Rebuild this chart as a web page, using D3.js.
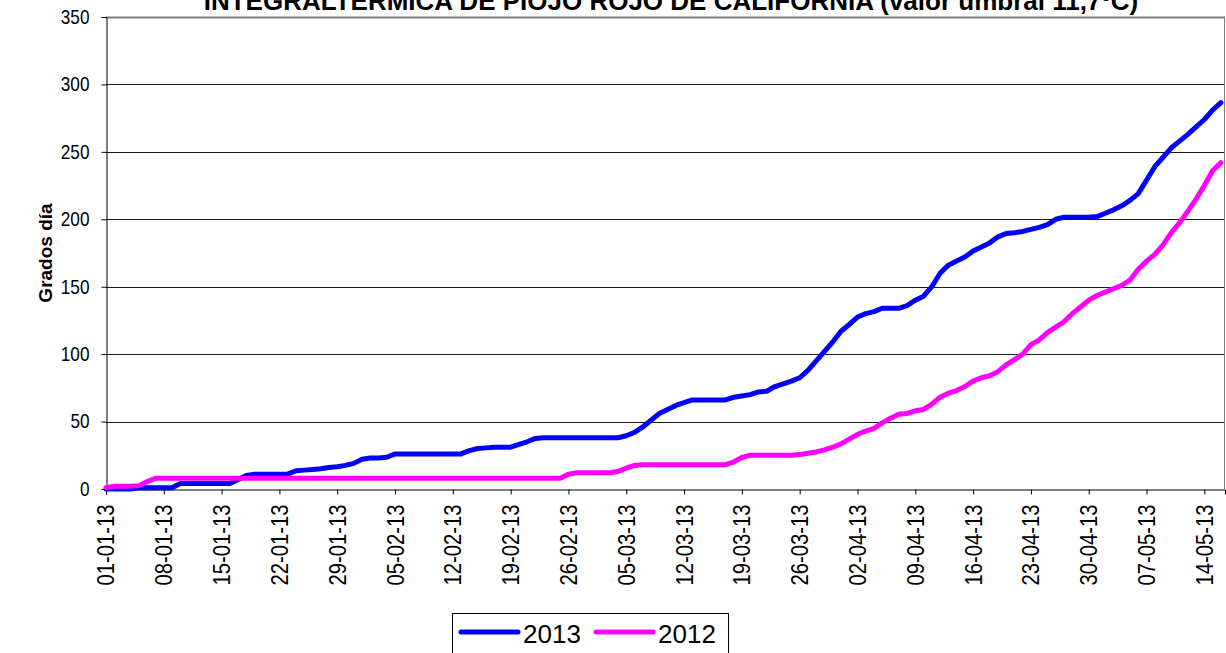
<!DOCTYPE html>
<html>
<head>
<meta charset="utf-8">
<script src="https://cdn.jsdelivr.net/npm/d3@7"></script>
<style>
  body { margin: 0; background: #fff; }
  svg { display: block; font-family: 'Liberation Sans', Arial, sans-serif; }
</style>
</head>
<body>
<div id="chart"></div>
<script>
// first day of the series, one value per day after it
const startDate = new Date(2013, 0, 1);

const tickLabels = [
  '01-01-13', '08-01-13', '15-01-13', '22-01-13', '29-01-13', '05-02-13',
  '12-02-13', '19-02-13', '26-02-13', '05-03-13', '12-03-13', '19-03-13',
  '26-03-13', '02-04-13', '09-04-13', '16-04-13', '23-04-13', '30-04-13',
  '07-05-13', '14-05-13'
];

const yTicks = [0, 50, 100, 150, 200, 250, 300, 350];

const seriesNames = ['2013', '2012'];
const seriesColors = ['#0000ff', '#ff00ff'];

// grados dia acumulados 2013
const values2013 = [
  0, 0, 0, 0, 1, 1, 1, 1, 1, 4, 4, 4, 4, 4, 4, 4, 7, 10, 11, 11, 11, 11, 11,
  13.5, 14, 14.5, 15, 16, 16.5, 17.5, 19, 22, 23, 23, 23.5, 26,
  26, 26, 26, 26, 26, 26, 26, 26,
  28.5, 30, 30.5, 31, 31, 31, 33, 35, 37.5,
  38, 38, 38, 38, 38, 38, 38, 38, 38, 38,
  39.5, 42, 46, 51, 56, 59, 62, 64, 66,
  66, 66, 66, 66,
  68, 69, 70, 72, 72.5, 76, 78, 80, 82.5,
  88, 95, 102, 109, 117, 122, 127.5, 130, 131.5, 134, 134, 134,
  136, 140, 143, 150, 160, 166, 169, 172, 176.5, 179.5, 182.5, 187, 189.5,
  190, 191, 192.5, 194, 196, 200,
  201.5, 201.5, 201.5, 201.5,
  202, 204.5, 207, 210, 214, 219, 229, 239, 246, 253, 258, 263, 268.5, 274,
  281, 286.5
];

// grados dia acumulados 2012
const values2012 = [
  1, 2, 2, 2, 2.5, 5.5, 8,
  8, 8, 8, 8, 8, 8, 8, 8, 8, 8, 8, 8, 8, 8, 8, 8, 8, 8, 8, 8, 8, 8, 8, 8,
  8, 8, 8, 8, 8, 8, 8, 8, 8, 8, 8, 8, 8, 8, 8, 8, 8, 8, 8, 8, 8, 8, 8, 8, 8,
  11, 12, 12, 12, 12, 12,
  13, 15.5, 17.5, 18,
  18, 18, 18, 18, 18, 18, 18, 18, 18, 18,
  20, 23.5, 25,
  25, 25, 25, 25, 25,
  25.5, 26.5, 27.5, 29, 31, 33.5, 37, 40.5, 43, 45, 49, 52.5, 55.5, 56, 58,
  59, 63, 68, 71, 73, 76, 80, 82.5, 84, 87, 92, 96, 100, 107, 110.5,
  116, 120, 124, 130, 135, 140, 143.5, 146, 148.5, 151, 155, 163, 169, 174,
  181, 190, 197.5, 206, 215, 225, 236, 242
];

const totalW = 1226;
const totalH = 653;
const margin = { top: 17, right: 1, bottom: 164, left: 106 };
const width = totalW - margin.left - margin.right;
const height = totalH - margin.top - margin.bottom;

const parseTick = d3.timeParse('%d-%m-%y');
const day = (i) => d3.timeDay.offset(startDate, i);

const svg = d3
  .select('#chart')
  .append('svg')
  .attr('width', totalW)
  .attr('height', totalH);

const group = svg
  .append('g')
  .attr('transform', 'translate(' + margin.left + ',' + margin.top + ')');

const x = d3
  .scaleTime()
  .domain([startDate, d3.timeHour.offset(startDate, 135.5 * 24)])
  .range([0, width]);

const y = d3.scaleLinear().domain([0, 350]).range([height, 0]);

// gridlines
group
  .append('g')
  .selectAll('line')
  .data(yTicks.filter((d) => d > 0))
  .enter()
  .append('line')
  .attr('x1', 0)
  .attr('x2', width)
  .attr('y1', (d) => Math.round(y(d)) + 0.5)
  .attr('y2', (d) => Math.round(y(d)) + 0.5)
  .attr('stroke', (d) => (d === 350 ? '#808080' : '#1a1a1a'))
  .attr('stroke-width', (d) => (d === 350 ? 2 : 1));

// right border of plot area
group
  .append('line')
  .attr('x1', width - 0.5)
  .attr('x2', width - 0.5)
  .attr('y1', 0)
  .attr('y2', height)
  .attr('stroke', '#808080');

// y axis, labels a bit condensed like the original
const yAxis = (g) =>
  g
    .attr('transform', 'translate(0.5,0)')
    .call(d3.axisLeft(y).tickValues(yTicks).tickSize(5).tickPadding(12))
    .call((gr) => gr.select('.domain').attr('stroke', '#000'))
    .call((gr) =>
      gr
        .selectAll('.tick text')
        .attr('font-size', 20)
        .attr('fill', '#000')
        .attr('font-family', null)
        .attr('x', 0)
        .attr('transform', 'translate(-17,0) scale(0.86,1)')
    );

group.append('g').call(yAxis);

// x axis with rotated date labels
const xAxis = (g) =>
  g
    .attr('transform', `translate(0, ${Math.round(height) + 0.5})`)
    .call(
      d3
        .axisBottom(x)
        .tickValues(tickLabels.map(parseTick))
        .tickFormat((d, i) => tickLabels[i])
        .tickSize(5)
    )
    .call((gr) => gr.select('.domain').attr('stroke', '#000'))
    .call((gr) =>
      gr
        .selectAll('.tick text')
        .attr('font-size', 23)
        .attr('font-family', null)
        .attr('fill', '#000')
        .attr('text-anchor', 'end')
        .attr('dominant-baseline', 'central')
        .attr('dy', null)
        .attr('x', 0)
        .attr('y', 0)
        .attr('transform', 'rotate(-90) translate(-15,0) scale(0.88,1)')
    );

group.append('g').call(xAxis);

// series lines
const line = d3
  .line()
  .x((d, i) => x(day(i)))
  .y((d) => y(d));

[values2013, values2012].forEach((vals, k) => {
  group
    .append('path')
    .datum(vals)
    .attr('fill', 'none')
    .attr('stroke', seriesColors[k])
    .attr('stroke-width', 5)
    .attr('stroke-linejoin', 'round')
    .attr('stroke-linecap', 'round')
    .attr('d', line);
});

// title (top half is cut by the picture edge, as in the original)
svg
  .append('text')
  .attr('x', 671)
  .attr('y', 10)
  .attr('text-anchor', 'middle')
  .attr('font-weight', 'bold')
  .attr('font-size', 26)
  .text('INTEGRALTÉRMICA DE PIOJO ROJO DE CALIFORNIA (valor umbral 11,7ºC)');

// y label
svg
  .append('text')
  .attr('transform', 'translate(52,253) rotate(-90)')
  .attr('text-anchor', 'middle')
  .attr('font-weight', 'bold')
  .attr('font-size', 19)
  .text('Grados día');

// legend
const legend = svg.append('g');
legend
  .append('rect')
  .attr('x', 452.5)
  .attr('y', 613.5)
  .attr('width', 276)
  .attr('height', 45)
  .attr('fill', '#fff')
  .attr('stroke', '#000');

const legendX = [461, 596];
seriesNames.forEach((name, k) => {
  legend
    .append('line')
    .attr('x1', legendX[k])
    .attr('x2', legendX[k] + 57)
    .attr('y1', 632)
    .attr('y2', 632)
    .attr('stroke', seriesColors[k])
    .attr('stroke-width', 5)
    .attr('stroke-linecap', 'round');
  legend
    .append('text')
    .attr('x', legendX[k] + 62)
    .attr('y', 643)
    .attr('font-size', 26)
    .text(name);
});
</script>
</body>
</html>
